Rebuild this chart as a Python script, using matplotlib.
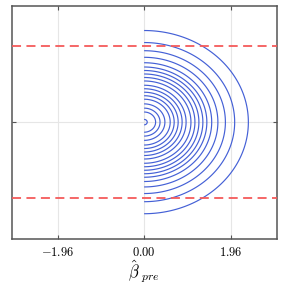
import matplotlib
matplotlib.use("Agg")
import matplotlib.pyplot as plt
import numpy as np

plt.rcParams["mathtext.fontset"] = "cm"
plt.rcParams["font.family"] = "serif"
plt.rcParams["font.serif"] = ["cmr10", "DejaVu Serif"]

# contour radii (outermost first)
contour_radii = [2.36, 2.05, 1.84, 1.67, 1.53, 1.42, 1.33, 1.24, 1.15, 1.06,
                 0.95, 0.86, 0.77, 0.68, 0.59, 0.47, 0.36, 0.26, 0.07]
crit_lines = [-1.96, 1.96]
xtick_vals = [-1.96, 0.0, 1.96]
xtick_labels = [r"$-1.96$", r"$0.00$", r"$1.96$"]

fig = plt.figure(figsize=(2.84, 2.84), dpi=100)
ax = fig.add_axes([0.041, 0.16, 0.933, 0.82])

# half-plane grid (beta_pre >= 0)
xs = np.linspace(0, 3, 400)
ys = np.linspace(-3, 3, 800)
X, Y = np.meshgrid(xs, ys)
R = np.sqrt(X ** 2 + Y ** 2)
ax.contour(X, Y, R, levels=sorted(contour_radii), colors="#4460d6",
           linewidths=0.85, zorder=3)

for y in crit_lines:
    ax.axhline(y, color="#f45a5a", lw=1.3, ls=(0, (5, 3)), zorder=4)

ax.set_xlim(-3, 3)
ax.set_ylim(-3, 3)
ax.set_xticks(xtick_vals)
ax.set_xticklabels(xtick_labels, fontsize=9)
ax.set_yticks([0])
ax.set_yticklabels([])
ax.grid(True, color="#e6e6e6", lw=0.8, zorder=0)
ax.tick_params(direction="in", length=3, width=0.8, color="#555555",
               top=True, right=True, pad=5)
for s in ax.spines.values():
    s.set_color("#555555")
    s.set_linewidth(1.1)

ax.set_xlabel(r"$\hat{\beta}_{\ pre}$", fontsize=12, labelpad=0)

fig.savefig("out.png", dpi=100)
